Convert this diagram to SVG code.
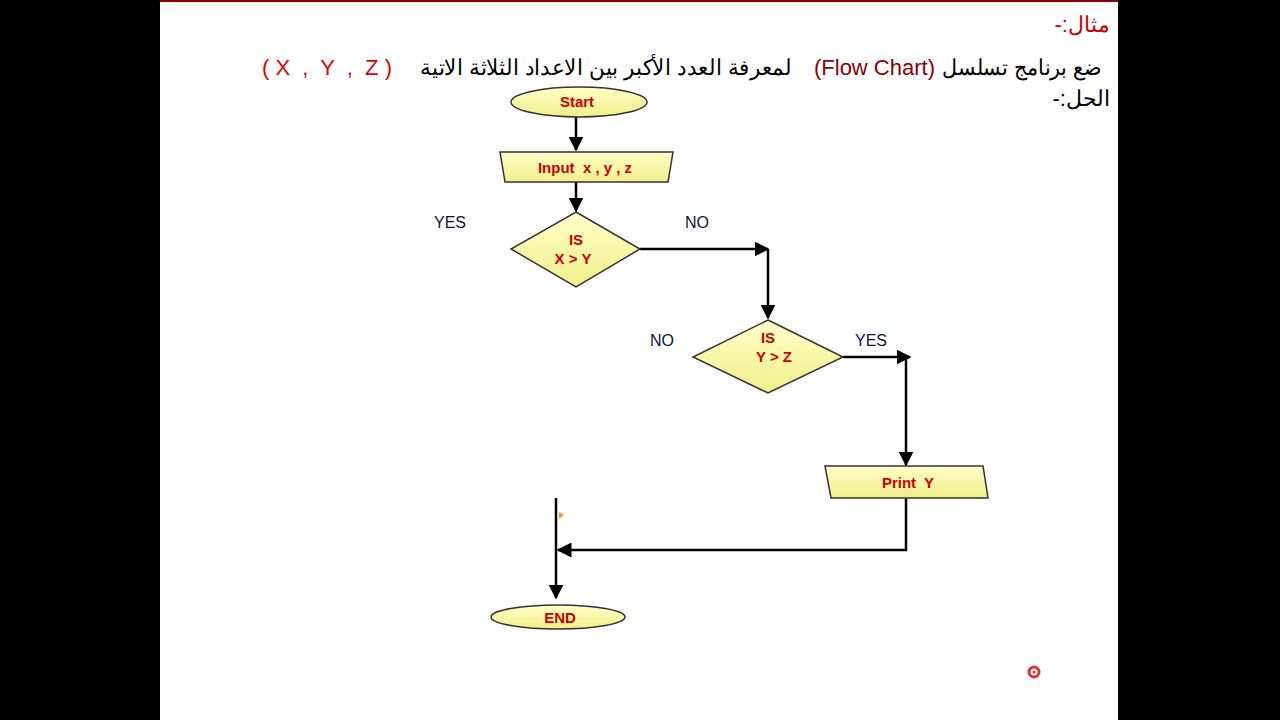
<svg xmlns="http://www.w3.org/2000/svg" width="1280" height="720" viewBox="0 0 1280 720">
<defs>
<linearGradient id="g" x1="0" y1="0" x2="0" y2="1"><stop offset="0" stop-color="#ffffc8"/><stop offset="1" stop-color="#f2ef8a"/></linearGradient>
<marker id="a" viewBox="0 0 10 10" refX="9" refY="5" markerWidth="6" markerHeight="6" orient="auto"><path d="M0,0L10,5L0,10z" fill="#000"/></marker>
</defs>
<style>
.s{fill:url(#g);stroke:#333;stroke-width:1.5}
.t{font-family:"Liberation Sans",Arial,sans-serif;font-weight:bold;fill:#cc0000;font-size:15px;text-anchor:middle}
.l{font-family:"Liberation Sans",Arial,sans-serif;fill:#0a1440;font-size:16px;text-anchor:middle}
.c{stroke:#000;stroke-width:2.5;fill:none}
.ar{font-family:"Liberation Sans","Noto Sans",sans-serif;font-size:22px}
</style>
<rect width="1280" height="720" fill="#000"/>
<rect x="160" y="0" width="958" height="720" fill="#fff"/>
<rect x="160" y="0" width="958" height="2" fill="#8b0000"/>
<text class="ar" x="1110" y="32" text-anchor="start" direction="rtl" fill="#cc0000" font-size="24">مثال:-</text>
<text class="ar" x="1102" y="75" text-anchor="start" direction="rtl" fill="#000" textLength="160" lengthAdjust="spacingAndGlyphs">ضع برنامج تسلسل</text>
<text class="ar" x="935" y="75" text-anchor="end" fill="#8b0000">(Flow Chart)</text>
<text class="ar" x="792" y="75" text-anchor="start" direction="rtl" fill="#000" textLength="372" lengthAdjust="spacingAndGlyphs">لمعرفة العدد الأكبر بين الاعداد الثلاثة الاتية</text>
<text class="ar" x="262" y="75" fill="#e00000" xml:space="preserve">( X  ,  Y  ,  Z )</text>
<text class="ar" x="1110" y="106" text-anchor="start" direction="rtl" fill="#000">الحل:-</text>
<g id="connectors">
<path class="c" d="M576,117V150" marker-end="url(#a)"/>
<path class="c" d="M576,182V211" marker-end="url(#a)"/>
<path class="c" d="M640,249H768" marker-end="url(#a)"/>
<path class="c" d="M768,249V318" marker-end="url(#a)"/>
<path class="c" d="M843,357H910" marker-end="url(#a)"/>
<path class="c" d="M906,357V465" marker-end="url(#a)"/>
<path class="c" d="M906,498V550H558" marker-end="url(#a)"/>
<path class="c" d="M556,498V598" marker-end="url(#a)"/>
<path d="M559,512L564,515L559,519z" fill="#f0a030"/>
</g>
<g id="start"><ellipse class="s" cx="579" cy="102" rx="68" ry="15"/><text class="t" x="577" y="107">Start</text></g>
<g id="input"><polygon class="s" points="500,152 673,152 668,182 505,182"/><text class="t" x="585" y="173" font-size="16" xml:space="preserve">Input  x , y , z</text></g>
<g id="d1"><polygon class="s" points="576,212 640,249 576,287 511,249"/><text class="t" x="576" y="245" font-size="13">IS</text><text class="t" x="573" y="264" font-size="13">X &gt; Y</text></g>
<g id="d2"><polygon class="s" points="768,320 843,357 768,393 693,357"/><text class="t" x="768" y="343" font-size="13">IS</text><text class="t" x="774" y="362" font-size="13">Y &gt; Z</text></g>
<g id="print"><polygon class="s" points="825,466 983,466 988,498 831,498"/><text class="t" x="908" y="488" font-size="16" xml:space="preserve">Print  Y</text></g>
<g id="end"><ellipse class="s" cx="558" cy="617" rx="67" ry="12"/><text class="t" x="560" y="623" font-weight="normal" font-size="17">END</text></g>
<g id="labels">
<text class="l" x="450" y="228">YES</text><text class="l" x="697" y="228">NO</text>
<text class="l" x="662" y="346">NO</text><text class="l" x="871" y="346">YES</text>
</g>
<circle cx="1034" cy="672" r="5" fill="none" stroke="#e03030" stroke-width="3"/>
<circle cx="1034" cy="672" r="1.5" fill="#e03030"/>
</svg>
